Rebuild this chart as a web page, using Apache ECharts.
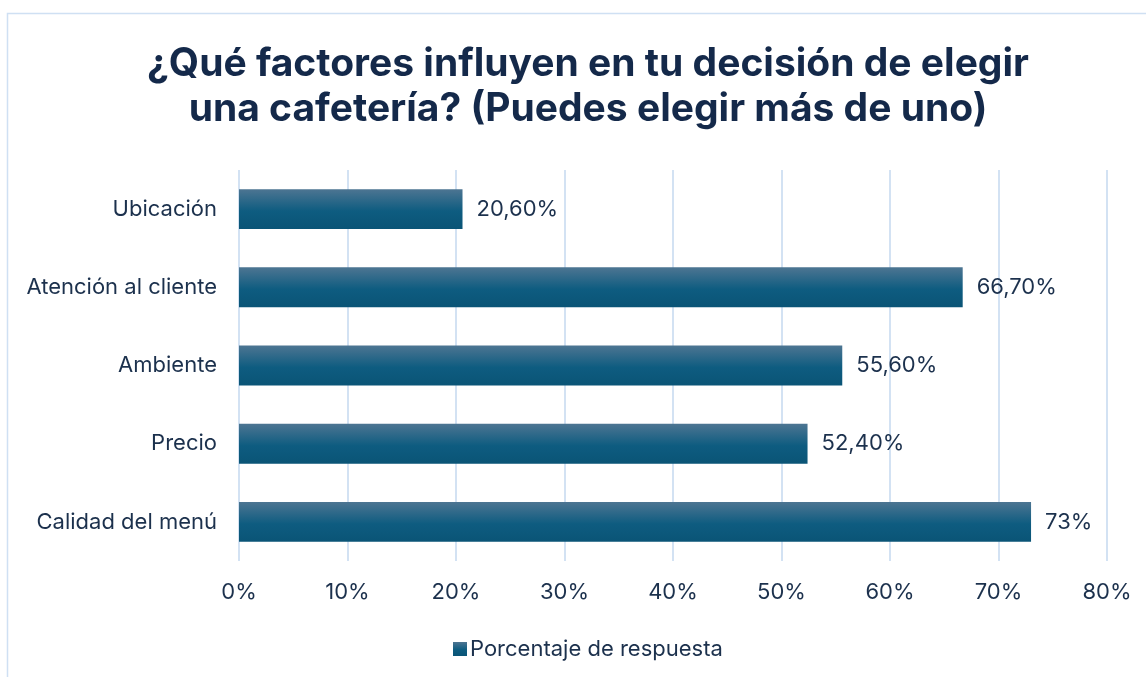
<!DOCTYPE html>
<html>
<head>
    <meta charset="UTF-8">
    <title>Factores cafetería</title>
    <script src="https://cdn.jsdelivr.net/npm/echarts@6/dist/echarts.min.js"></script>
    <style>
        html, body {margin: 0; padding: 0; background: #fff;}
        #main {width: 1146px; height: 677px;}
    </style>
</head>
<body>
<div id="main"></div>
<script>
    // datos
    var categorias = ['Ubicación', 'Atención al cliente', 'Ambiente', 'Precio', 'Calidad del menú'];
    var valores = [20.6, 66.7, 55.6, 52.4, 73];
    var etiquetas = ['20,60%', '66,70%', '55,60%', '52,40%', '73%'];
    var serieNombre = 'Porcentaje de respuesta';

    var textColor = '#1c314d';
    var myChart = echarts.init(document.getElementById('main'));

    myChart.setOption({
        animation: false,
        textStyle: {fontFamily: 'Inter, "Open Sans", sans-serif'},
        graphic: [{
            type: 'rect',
            shape: {x: 7.5, y: 13.5, width: 1150, height: 680},
            style: {fill: 'none', stroke: '#cfe0f3', lineWidth: 1.5},
            silent: true
        }],
        title: {
            text: '¿Qué factores influyen en tu decisión de elegir\nuna cafetería? (Puedes elegir más de uno)',
            left: 583,
            textAlign: 'center',
            top: 37,
            textStyle: {
                fontSize: 39,
                fontWeight: 'bold',
                color: '#14294a',
                lineHeight: 45,
                fontFamily: 'Inter, "Open Sans", sans-serif'
            }
        },
        legend: {
            top: 633,
            left: 448,
            itemWidth: 14,
            itemHeight: 14,
            itemGap: 6,
            icon: 'rect',
            textStyle: {fontSize: 22, color: textColor, padding: [0, 0, 0, -2]},
            data: [serieNombre]
        },
        grid: {left: 239, right: 39, top: 170, bottom: 116, containLabel: false},
        xAxis: {
            type: 'value',
            min: 0,
            max: 80,
            interval: 10,
            axisLabel: {
                formatter: '{value}%',
                fontSize: 22,
                color: textColor,
                margin: 20
            },
            axisLine: {show: false},
            axisTick: {show: false},
            splitLine: {lineStyle: {color: '#d3e2f3', width: 2}}
        },
        yAxis: {
            type: 'category',
            inverse: true,
            data: categorias,
            axisLabel: {fontSize: 22, color: textColor, margin: 22},
            axisLine: {show: false},
            axisTick: {show: false}
        },
        series: [{
            name: serieNombre,
            type: 'bar',
            data: valores,
            barWidth: '51%',
            itemStyle: {
                color: new echarts.graphic.LinearGradient(0, 0, 0, 1, [
                    {offset: 0, color: '#4d7592'},
                    {offset: 0.55, color: '#0e5c80'},
                    {offset: 1, color: '#0a5476'}
                ])
            },
            label: {
                show: true,
                position: 'right',
                distance: 14,
                fontSize: 22,
                color: textColor,
                formatter: function (p) {
                    return etiquetas[p.dataIndex];
                }
            }
        }]
    });
</script>
</body>
</html>
